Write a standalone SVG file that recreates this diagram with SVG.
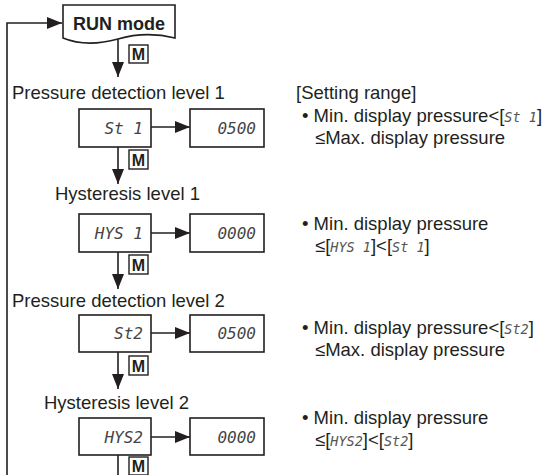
<svg xmlns="http://www.w3.org/2000/svg" width="548" height="475" viewBox="0 0 548 475">
<style>
.ln{fill:none;stroke:#231f20;stroke-width:1.6}
.box{fill:#fff;stroke:#231f20;stroke-width:1.6}
.mbox{fill:#fff;stroke:#231f20;stroke-width:1.4}
.m{font-family:"Liberation Sans",Arial,sans-serif;font-weight:bold;font-size:16px;fill:#231f20;text-anchor:middle}
.lbl{font-family:"Liberation Sans",Arial,sans-serif;font-size:18.5px;fill:#231f20}
.seg{font-family:"DejaVu Sans Mono","Liberation Mono",monospace;font-style:italic;font-size:16px;fill:#444;text-anchor:end}
.segi{font-family:"DejaVu Sans Mono","Liberation Mono",monospace;font-style:italic;font-size:13.5px;fill:#555}
</style>
<defs>
<marker id="ah" markerUnits="userSpaceOnUse" markerWidth="16" markerHeight="12" refX="15" refY="6" orient="auto">
<path d="M0,0 L15,6 L0,12 Z" fill="#231f20"/>
</marker>
</defs>
<g id="connectors">
<path class="ln" d="M7,475 V23 H62" marker-end="url(#ah)"/>
<path class="ln" d="M118,39 V77" marker-end="url(#ah)"/>
<path class="ln" d="M118,147 V184" marker-end="url(#ah)"/>
<path class="ln" d="M118,252 V289" marker-end="url(#ah)"/>
<path class="ln" d="M118,352 V389" marker-end="url(#ah)"/>
<path class="ln" d="M118,455 V475"/>
<path class="ln" d="M151,127 H190" marker-end="url(#ah)"/>
<path class="ln" d="M151,233 H190" marker-end="url(#ah)"/>
<path class="ln" d="M151,333 H190" marker-end="url(#ah)"/>
<path class="ln" d="M151,437 H190" marker-end="url(#ah)"/>
<rect class="mbox" x="129" y="45" width="19" height="18"/><text class="m" x="138.5" y="60">M</text>
<rect class="mbox" x="129" y="150" width="19" height="19"/><text class="m" x="138.5" y="165.5">M</text>
<rect class="mbox" x="129" y="255" width="19" height="19"/><text class="m" x="138.5" y="270.5">M</text>
<rect class="mbox" x="129" y="356" width="19" height="19"/><text class="m" x="138.5" y="371.5">M</text>
<rect class="mbox" x="129" y="457" width="19" height="18"/><text class="m" x="138.5" y="472">M</text>
</g>
<g id="run">
<path class="box" d="M63,5 H175 V38 C155,33 135,34 118,39 C100,44 80,45 63,38 Z"/>
<text x="119" y="30" font-family="'Liberation Sans',Arial,sans-serif" font-weight="bold" font-size="18px" fill="#231f20" text-anchor="middle">RUN mode</text>
</g>
<g id="st1">
<text class="lbl" x="12" y="99">Pressure detection level 1</text>
<rect class="box" x="79" y="109" width="72" height="38"/><text class="seg" x="143" y="134">St 1</text>
<rect class="box" x="190" y="109" width="74" height="38"/><text class="seg" x="256" y="134">0500</text>
</g>
<g id="hys1">
<text class="lbl" x="55" y="200">Hysteresis level 1</text>
<rect class="box" x="79" y="214" width="72" height="38"/><text class="seg" x="143" y="239">HYS 1</text>
<rect class="box" x="190" y="214" width="74" height="38"/><text class="seg" x="256" y="239">0000</text>
</g>
<g id="st2">
<text class="lbl" x="12" y="307">Pressure detection level 2</text>
<rect class="box" x="79" y="315" width="72" height="37"/><text class="seg" x="143" y="339">St2</text>
<rect class="box" x="190" y="315" width="74" height="37"/><text class="seg" x="256" y="339">0500</text>
</g>
<g id="hys2">
<text class="lbl" x="44" y="409">Hysteresis level 2</text>
<rect class="box" x="79" y="418" width="72" height="37"/><text class="seg" x="143" y="443">HYS2</text>
<rect class="box" x="190" y="418" width="74" height="37"/><text class="seg" x="256" y="443">0000</text>
</g>
<g id="ranges">
<text class="lbl" x="296" y="99">[Setting range]</text>
<text class="lbl" x="302" y="122">• Min. display pressure&lt;[<tspan class="segi">St 1</tspan>]</text>
<text class="lbl" x="315" y="144">≤Max. display pressure</text>
<text class="lbl" x="302" y="230">• Min. display pressure</text>
<text class="lbl" x="315" y="252">≤[<tspan class="segi">HYS 1</tspan>]&lt;[<tspan class="segi">St 1</tspan>]</text>
<text class="lbl" x="302" y="334">• Min. display pressure&lt;[<tspan class="segi">St2</tspan>]</text>
<text class="lbl" x="315" y="356">≤Max. display pressure</text>
<text class="lbl" x="302" y="424">• Min. display pressure</text>
<text class="lbl" x="315" y="446">≤[<tspan class="segi">HYS2</tspan>]&lt;[<tspan class="segi">St2</tspan>]</text>
</g>
</svg>
